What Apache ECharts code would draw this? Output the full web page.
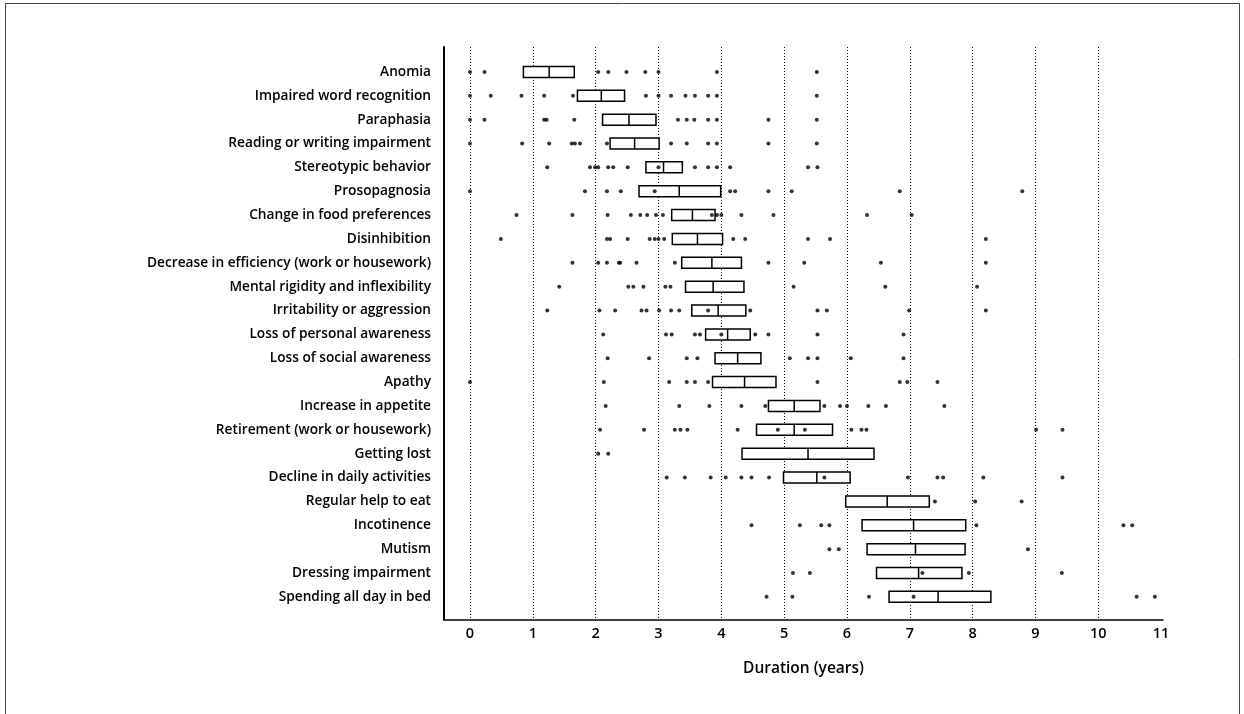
<!DOCTYPE html>
<html>
<head>
<meta charset="utf-8">
<script src="https://cdn.jsdelivr.net/npm/echarts@6/dist/echarts.min.js"></script>
<style>
  html, body { margin: 0; padding: 0; background: #fff; }
  #chart { width: 1244px; height: 714px; }
</style>
</head>
<body>
<div id="chart"></div>
<script>
// symptoms, top to bottom
const categories = [
  'Anomia', 'Impaired word recognition', 'Paraphasia', 'Reading or writing impairment',
  'Stereotypic behavior', 'Prosopagnosia', 'Change in food preferences', 'Disinhibition',
  'Decrease in efficiency (work or housework)', 'Mental rigidity and inflexibility',
  'Irritability or aggression', 'Loss of personal awareness', 'Loss of social awareness',
  'Apathy', 'Increase in appetite', 'Retirement (work or housework)', 'Getting lost',
  'Decline in daily activities', 'Regular help to eat', 'Incotinence', 'Mutism',
  'Dressing impairment', 'Spending all day in bed'
];

// box edges (years)
const q1 = [0.85, 1.71, 2.11, 2.23, 2.80, 2.69, 3.21, 3.22, 3.37, 3.43, 3.53, 3.75, 3.90, 3.86, 4.75, 4.56, 4.33, 4.99, 5.98, 6.24, 6.32, 6.47, 6.67];
const medians = [1.26, 2.09, 2.53, 2.62, 3.08, 3.33, 3.54, 3.62, 3.85, 3.87, 3.95, 4.10, 4.26, 4.37, 5.16, 5.16, 5.38, 5.52, 6.64, 7.06, 7.09, 7.14, 7.45];
const q3 = [1.66, 2.46, 2.96, 3.01, 3.38, 3.99, 3.90, 4.02, 4.32, 4.36, 4.39, 4.46, 4.63, 4.87, 5.57, 5.77, 6.43, 6.05, 7.31, 7.89, 7.88, 7.83, 8.29];

// individual observations per symptom
const points = [
  [0, 0.23, 2.04, 2.20, 2.49, 2.79, 3.0, 3.93, 5.52],
  [0, 0.33, 0.82, 1.18, 1.64, 2.80, 3.0, 3.20, 3.43, 3.58, 3.79, 3.93, 5.52],
  [0, 0.23, 1.18, 1.22, 1.66, 3.31, 3.45, 3.57, 3.79, 3.93, 4.75, 5.52],
  [0, 0.83, 1.26, 1.62, 1.67, 1.75, 2.18, 3.20, 3.45, 3.79, 3.93, 4.75, 5.52],
  [1.23, 1.91, 1.99, 2.04, 2.20, 2.28, 2.51, 3.0, 3.58, 3.79, 3.93, 4.14, 5.38, 5.53],
  [0, 1.83, 2.18, 2.40, 2.94, 4.14, 4.22, 4.75, 5.12, 6.84, 8.79],
  [0.74, 1.63, 2.19, 2.56, 2.71, 2.82, 2.96, 3.07, 3.85, 3.93, 4.0, 4.32, 4.83, 6.32, 7.03],
  [0.49, 2.18, 2.23, 2.51, 2.86, 2.94, 3.0, 3.09, 4.19, 4.38, 5.38, 5.73, 8.21],
  [1.63, 2.04, 2.18, 2.37, 2.39, 2.65, 3.26, 4.75, 5.32, 6.54, 8.21],
  [1.42, 2.52, 2.60, 2.76, 3.11, 3.19, 5.15, 6.61, 8.07],
  [1.23, 2.06, 2.31, 2.73, 2.81, 3.01, 3.20, 3.33, 3.79, 4.46, 5.53, 5.68, 6.99, 8.21],
  [2.12, 3.12, 3.21, 3.58, 3.66, 4.0, 4.54, 4.75, 5.53, 6.90],
  [2.19, 2.85, 3.45, 3.62, 5.09, 5.38, 5.53, 6.06, 6.90],
  [0, 2.13, 3.17, 3.45, 3.58, 3.79, 5.53, 6.84, 6.96, 7.44],
  [2.16, 3.33, 3.81, 4.32, 4.70, 5.64, 5.89, 6.0, 6.34, 6.62, 7.55],
  [2.07, 2.77, 3.26, 3.35, 3.46, 4.26, 4.90, 5.33, 6.07, 6.23, 6.31, 9.01, 9.43],
  [2.04, 2.20],
  [3.13, 3.42, 3.83, 4.07, 4.32, 4.48, 4.76, 5.64, 6.97, 7.44, 7.53, 8.17, 9.43],
  [7.40, 8.04, 8.78],
  [4.48, 5.25, 5.59, 5.72, 8.06, 10.40, 10.54],
  [5.72, 5.87, 8.88],
  [5.14, 5.41, 7.20, 7.94, 9.42],
  [4.72, 5.13, 6.35, 7.06, 10.61, 10.90]
];

const tickLabels = [0, 1, 2, 3, 4, 5, 6, 7, 8, 9, 10, 11];
const gridValues = [0, 1, 2, 3, 4, 5, 6, 7, 8, 9, 10];

// no whiskers in the figure: min/max sit on the box edges
const boxData = categories.map((c, i) => [q1[i], q1[i], medians[i], q3[i], q3[i]]);
const scatterData = [];
points.forEach((arr, i) => {
  arr.forEach(v => scatterData.push([v, categories[i]]));
});

const labelFont = "'Open Sans', 'Noto Sans', sans-serif";
const myChart = echarts.init(document.getElementById('chart'), null, { renderer: 'canvas' });

myChart.setOption({
  backgroundColor: '#fff',
  animation: false,
  graphic: [
    {
      type: 'rect',
      shape: { x: 5.5, y: 3.5, width: 1234, height: 730 },
      style: { fill: 'none', stroke: '#444', lineWidth: 1 },
      silent: true
    }
  ],
  grid: [
    // frame: axes lines + dotted grid
    { left: 444, top: 47, width: 719, height: 573 },
    // data area
    { left: 470, top: 60, width: 691.13, height: 548.8 }
  ],
  xAxis: [
    {
      gridIndex: 0,
      type: 'value',
      min: -0.414,
      max: 11.03,
      axisLine: { show: true, onZero: false, lineStyle: { color: '#000', width: 1.5 } },
      axisTick: { show: false, customValues: gridValues },
      splitLine: { show: true, lineStyle: { color: '#000', type: [1, 2], width: 1 } },
      axisLabel: {
        customValues: tickLabels,
        color: '#000',
        fontFamily: labelFont,
        fontSize: 14.5,
        fontWeight: 600,
        margin: 6
      },
      name: 'Duration (years)',
      nameLocation: 'middle',
      nameGap: 41,
      nameTextStyle: { color: '#000', fontFamily: labelFont, fontSize: 15.5, fontWeight: 600 }
    },
    {
      gridIndex: 1,
      type: 'value',
      min: 0,
      max: 11,
      show: false
    }
  ],
  yAxis: [
    {
      gridIndex: 0,
      type: 'value',
      min: 0,
      max: 1,
      axisLine: { show: true, onZero: false, lineStyle: { color: '#000', width: 2 } },
      axisTick: { show: false },
      axisLabel: { show: false },
      splitLine: { show: false }
    },
    {
      gridIndex: 1,
      type: 'category',
      inverse: true,
      data: categories,
      axisLine: { show: false },
      axisTick: { show: false },
      splitLine: { show: false },
      axisLabel: {
        color: '#000',
        fontFamily: labelFont,
        fontSize: 13.7,
        fontWeight: 600,
        margin: 39
      }
    }
  ],
  series: [
    {
      type: 'boxplot',
      xAxisIndex: 1,
      yAxisIndex: 1,
      boxWidth: [11, 11],
      itemStyle: { color: '#fff', borderColor: '#000', borderWidth: 1.5 },
      data: boxData,
      silent: true
    },
    {
      type: 'scatter',
      xAxisIndex: 1,
      yAxisIndex: 1,
      symbol: 'circle',
      symbolSize: 4,
      itemStyle: { color: '#000' },
      data: scatterData,
      z: 3,
      silent: true
    }
  ]
});
</script>
</body>
</html>
